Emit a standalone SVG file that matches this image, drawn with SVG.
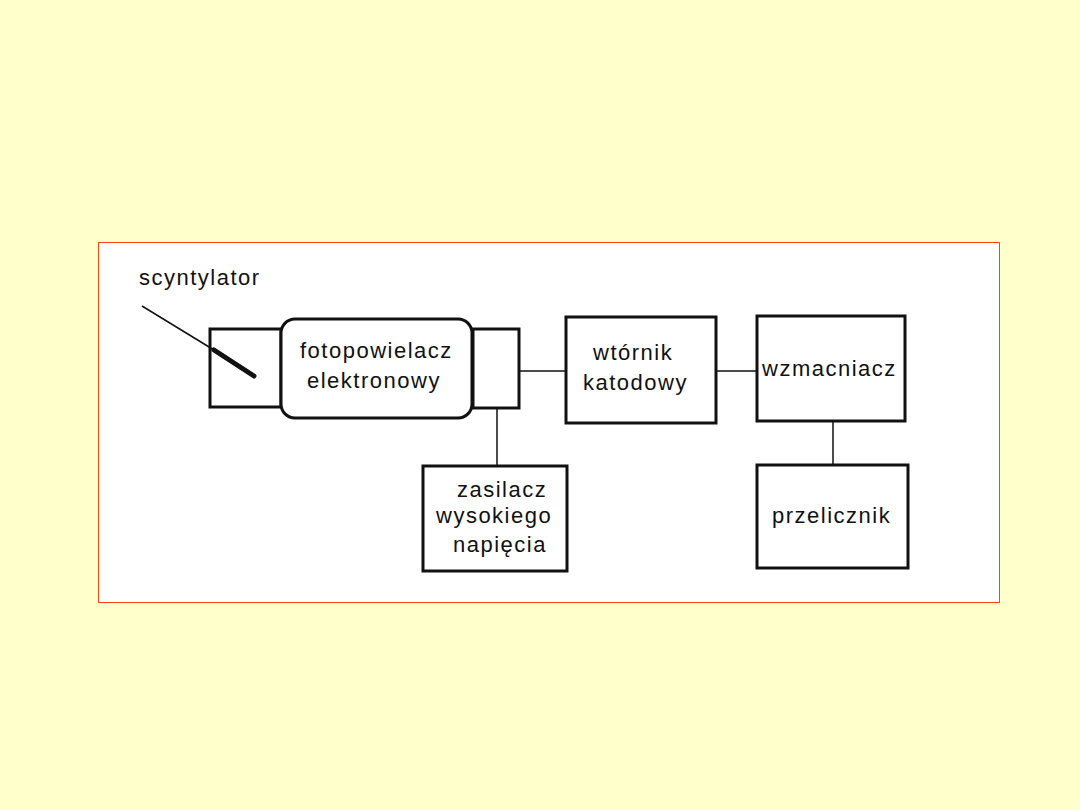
<svg xmlns="http://www.w3.org/2000/svg" width="1080" height="810" viewBox="0 0 1080 810">
<style>
.box{fill:#fff;stroke:#111;stroke-width:3}
.ln{stroke:#111;stroke-width:1.5;fill:none}
.t{font-family:"Liberation Sans",Arial,sans-serif;font-size:22px;letter-spacing:1.5px;fill:#111}
</style>
<rect x="0" y="0" width="1080" height="810" fill="#FFFFCC"/>
<rect id="panel" x="98.5" y="242.5" width="901" height="360" fill="#fff" stroke="#FF4411" stroke-width="1"/>
<g id="connectors">
<line class="ln" x1="519" y1="371" x2="566" y2="371"/>
<line class="ln" x1="716" y1="371" x2="757" y2="371"/>
<line class="ln" x1="497" y1="408" x2="497" y2="466"/>
<line class="ln" x1="833" y1="421" x2="833" y2="465"/>
</g>
<g id="scyntylator-label"><text class="t" x="139" y="285">scyntylator</text></g>
<g id="left-housing"><rect class="box" x="210" y="329" width="71" height="78"/></g>
<g id="scyntylator">
<line class="ln" x1="142" y1="306" x2="214" y2="350"/>
<line x1="214" y1="350" x2="254" y2="376" stroke="#111" stroke-width="5" stroke-linecap="round"/>
</g>
<g id="right-housing"><rect class="box" x="473" y="329" width="46" height="79"/></g>
<g id="fotopowielacz"><rect class="box" x="281" y="319" width="191" height="99" rx="14"/>
<text class="t" x="300" y="358">fotopowielacz</text>
<text class="t" x="307" y="388">elektronowy</text></g>
<g id="wtornik"><rect class="box" x="566" y="317" width="150" height="106"/>
<text class="t" x="593" y="360">wtórnik</text>
<text class="t" x="583" y="390">katodowy</text></g>
<g id="wzmacniacz"><rect class="box" x="757" y="316" width="148" height="105"/>
<text class="t" x="762" y="376">wzmacniacz</text></g>
<g id="zasilacz"><rect class="box" x="423" y="466" width="144" height="105"/>
<text class="t" x="457" y="497">zasilacz</text>
<text class="t" x="436" y="523">wysokiego</text>
<text class="t" x="453" y="552">napięcia</text></g>
<g id="przelicznik"><rect class="box" x="757" y="465" width="151" height="103"/>
<text class="t" x="772" y="523">przelicznik</text></g>
</svg>
